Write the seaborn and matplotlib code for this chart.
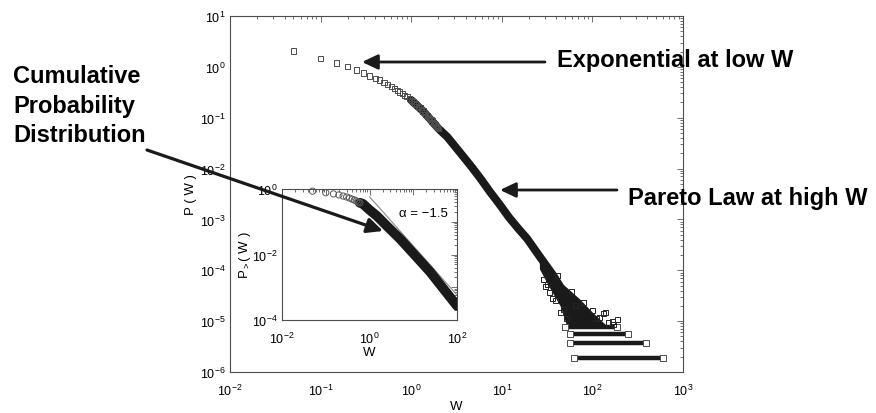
import numpy as np
import pandas as pd
import seaborn as sns
import matplotlib.pyplot as plt
from matplotlib.patches import FancyArrowPatch
from matplotlib.ticker import LogLocator, NullFormatter, FuncFormatter

# ---- main panel: money density P(W) ----
# sparse low-W bins (bin width 0.05)
w_low = [0.05, 0.10, 0.15, 0.20, 0.25, 0.30, 0.35, 0.40, 0.45, 0.50,
         0.55, 0.60, 0.65, 0.70, 0.75, 0.80, 0.85, 0.90, 0.95, 1.00,
         1.05, 1.10, 1.15, 1.20, 1.25, 1.30, 1.35, 1.40, 1.45, 1.50,
         1.55, 1.60, 1.65, 1.70, 1.75, 1.80, 1.85, 1.90, 1.95, 2.00]
p_low = [2.05, 1.48, 1.19, 1.00, 0.87, 0.76, 0.66, 0.60, 0.55, 0.50,
         0.45, 0.41, 0.375, 0.345, 0.32, 0.295, 0.275, 0.257, 0.238, 0.222,
         0.207, 0.193, 0.180, 0.168, 0.156, 0.145, 0.135, 0.126, 0.117, 0.109,
         0.102, 0.096, 0.091, 0.086, 0.081, 0.077, 0.072, 0.068, 0.065, 0.061]

# dense power-law body
w_body = [1.0, 1.35, 1.6, 2.0, 2.5, 3.2, 4.0, 4.8, 6.0, 7.4, 9.5, 12.0,
          15.0, 19.0, 26.0, 37.0, 50.0]
p_body = [0.222, 0.135, 0.096, 0.061, 0.042, 0.0245, 0.015, 0.010, 0.0059,
          0.0035, 1.95e-3, 1.1e-3, 6.8e-4, 4.2e-4, 1.9e-4, 7.9e-5, 3.3e-5]

# noisy tail envelope
w_tail = [26, 34, 44, 52, 72, 100, 144]
p_tail_hi = [1.7e-4, 1.0e-4, 5.9e-5, 4.6e-5, 2.75e-5, 1.5e-5, 8.1e-6]
p_tail_lo = [1.07e-4, 4.4e-5, 2.0e-5, 8.1e-6, 7.6e-6, 7.6e-6, 7.6e-6]

# scattered tail bins
w_out = [29, 30, 32, 34, 36, 39, 41, 44, 48, 52, 59, 65, 80, 100, 110,
         120, 132, 138, 150, 165, 170, 190]
p_out = [6.5e-5, 4.8e-5, 5.2e-5, 3.6e-5, 2.8e-5, 2.5e-5, 7.9e-5, 1.5e-5,
         1.7e-5, 1.14e-5, 3.8e-5, 2.0e-5, 2.3e-5, 1.6e-5, 1.14e-5, 1.2e-5,
         1.4e-5, 1.5e-5, 9.5e-6, 1.0e-5, 8.5e-6, 1.1e-5]

# single-count levels (1, 2, 3, 4 agents per bin)
band_level = [1.9e-6, 3.8e-6, 5.7e-6, 7.6e-6]
band_start = [62, 57, 57, 50]
band_end = [600, 390, 245, 185]

# ---- inset: cumulative distribution P>(W) ----
w_cum_low = [0.05, 0.10, 0.15, 0.20, 0.25, 0.30, 0.35, 0.40, 0.45, 0.50, 0.55, 0.60]
p_cum_low = [0.86, 0.77, 0.71, 0.66, 0.61, 0.57, 0.53, 0.49, 0.46, 0.43, 0.40, 0.38]
w_cum_body = [0.6, 0.71, 1.0, 1.48, 2.5, 5.0, 24.0, 100.0]
p_cum_body = [0.38, 0.35, 0.23, 0.15, 0.074, 0.030, 3.0e-3, 2.7e-4]
w_fit = [1.0, 100.0]
p_fit = [0.58, 5.8e-4]
alpha_label = "α = −1.5"

sns.set_theme(style="white")
plt.rcParams['font.family'] = ['Liberation Sans', 'DejaVu Sans']
plt.rcParams['mathtext.fontset'] = 'custom'
plt.rcParams['mathtext.rm'] = 'Liberation Sans'
plt.rcParams['mathtext.it'] = 'Liberation Sans:italic'
plt.rcParams['mathtext.bf'] = 'Liberation Sans:bold'
plt.rcParams['mathtext.sf'] = 'Liberation Sans'
plt.rcParams['text.color'] = 'black'
plt.rcParams['axes.labelcolor'] = 'black'

W, H = 876, 414
fig = plt.figure(figsize=(W / 100, H / 100), dpi=100)


def fx(px):
    return px / W


def fy(py):
    return 1 - py / H


def style_axes(ax, tick_size):
    for sp in ax.spines.values():
        sp.set_color('0.3')
        sp.set_linewidth(0.8)
    ax.tick_params(which='both', direction='in', top=True, right=True,
                   color='0.35', labelcolor='black', labelsize=tick_size, width=0.6)
    ax.tick_params(which='major', length=4)
    ax.tick_params(which='minor', length=2)
    ax.tick_params(axis='y', which='major', pad=3)


# main axes
ax = fig.add_axes([fx(230), fy(373), fx(683) - fx(230), fy(17) - fy(373)])
ax.set_xscale('log')
ax.set_yscale('log')

sns.lineplot(x=w_body, y=p_body, ax=ax, color='k', linewidth=5.8,
             estimator=None, sort=False, solid_capstyle='round', zorder=2)
sns.scatterplot(x=w_low, y=p_low, ax=ax, marker='s', s=14, facecolor='none',
                edgecolor='0.3', linewidth=0.7, zorder=3)
ax.fill_between(w_tail, p_tail_lo, p_tail_hi, color='k', lw=0, zorder=2)
for lvl, a, b in zip(band_level, band_start, band_end):
    sns.lineplot(x=[a, b], y=[lvl, lvl], ax=ax, color='k', linewidth=3.2,
                 estimator=None, solid_capstyle='butt', zorder=2)
    sns.scatterplot(x=[a, b], y=[lvl, lvl], ax=ax, marker='s', s=13,
                    facecolor='white', edgecolor='0.3', linewidth=0.7, zorder=3)
sns.scatterplot(x=w_out, y=p_out, ax=ax, marker='s', s=13, facecolor='none',
                edgecolor='0.15', linewidth=0.7, zorder=3)

ax.set_xlim(1e-2, 1e3)
ax.set_ylim(1e-6, 1e1)
ax.xaxis.set_major_locator(LogLocator(base=10, numticks=20))
ax.yaxis.set_major_locator(LogLocator(base=10, numticks=20))
ax.xaxis.set_minor_locator(LogLocator(base=10, subs=np.arange(2, 10), numticks=20))
ax.yaxis.set_minor_locator(LogLocator(base=10, subs=np.arange(2, 10), numticks=20))
ax.xaxis.set_minor_formatter(NullFormatter())
ax.yaxis.set_minor_formatter(NullFormatter())
style_axes(ax, 9)
ax.tick_params(axis='x', which='major', pad=8)
ax.set_xlabel('W', fontsize=9.5, labelpad=1)
ax.set_ylabel('P ( W )', fontsize=9.5, labelpad=2)

# inset axes
ax_in = fig.add_axes([fx(282), fy(321), fx(457) - fx(282), fy(190) - fy(321)])
ax_in.set_facecolor('white')
ax_in.set_xscale('log')
ax_in.set_yscale('log')
sns.lineplot(x=w_fit, y=p_fit, ax=ax_in, color='0.55', linewidth=0.8,
             estimator=None, zorder=2)
sns.lineplot(x=w_cum_body, y=p_cum_body, ax=ax_in, color='k', linewidth=7,
             estimator=None, sort=False, solid_capstyle='round', zorder=3)
sns.scatterplot(x=w_cum_low, y=p_cum_low, ax=ax_in, marker='o', s=20,
                facecolor='none', edgecolor='0.35', linewidth=0.7, zorder=4,
                clip_on=False)
ax_in.set_xlim(1e-2, 1e2)
ax_in.set_ylim(1e-4, 1e0)


def even_decades(v, pos):
    e = int(round(np.log10(v)))
    return r'$\mathdefault{10^{%d}}$' % e if e % 2 == 0 else ''


ax_in.xaxis.set_major_locator(LogLocator(base=10, numticks=20))
ax_in.yaxis.set_major_locator(LogLocator(base=10, numticks=20))
ax_in.xaxis.set_minor_locator(LogLocator(base=10, subs=np.arange(2, 10), numticks=20))
ax_in.yaxis.set_minor_locator(LogLocator(base=10, subs=np.arange(2, 10), numticks=20))
ax_in.xaxis.set_major_formatter(FuncFormatter(even_decades))
ax_in.yaxis.set_major_formatter(FuncFormatter(even_decades))
ax_in.xaxis.set_minor_formatter(NullFormatter())
ax_in.yaxis.set_minor_formatter(NullFormatter())
style_axes(ax_in, 9)
ax_in.tick_params(axis='x', which='major', pad=8)
ax_in.set_xlabel('W', fontsize=9.5, labelpad=0)
ax_in.set_ylabel(r'P$_{>}$( W )', fontsize=9.5, labelpad=-1)
ax_in.text(0.67, 0.815, alpha_label, transform=ax_in.transAxes,
           fontsize=9.5, ha='left', va='center')

# annotations
fs = 17
fig.text(fx(557), fy(67), 'Exponential at low W', fontsize=fs,
         fontweight='bold', ha='left', va='baseline')
fig.text(fx(628), fy(205), 'Pareto Law at high W', fontsize=fs,
         fontweight='bold', ha='left', va='baseline')
for i, line in enumerate(['Cumulative', 'Probability', 'Distribution']):
    fig.text(fx(13), fy(83 + 29.5 * i), line, fontsize=fs,
             fontweight='bold', ha='left', va='baseline')


def arrow(p0, p1, lw=2.0):
    fig.add_artist(FancyArrowPatch(
        posA=(fx(p0[0]), fy(p0[1])), posB=(fx(p1[0]), fy(p1[1])),
        transform=fig.transFigure, arrowstyle='-|>,head_length=0.95,head_width=0.45',
        mutation_scale=10, lw=lw, color='k', shrinkA=0, shrinkB=0, zorder=10))


arrow((545, 63), (362, 63))
arrow((617, 191), (500, 191))
arrow((147, 151), (383, 232), lw=2.3)

fig.savefig('out.png', dpi=100)
